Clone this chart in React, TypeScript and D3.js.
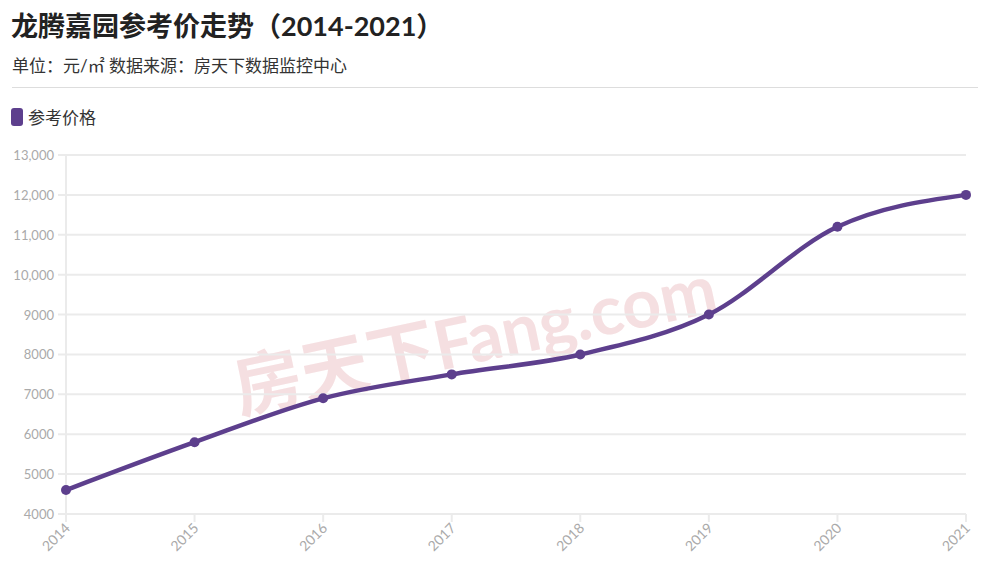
import React from "react";
import * as d3 from "d3";

const years = ["2014", "2015", "2016", "2017", "2018", "2019", "2020", "2021"];
const prices = [4600, 5800, 6900, 7500, 8000, 9000, 11200, 12000];
const yTicks = [4000, 5000, 6000, 7000, 8000, 9000, 10000, 11000, 12000, 13000];
const title = "龙腾嘉园参考价走势（2014-2021）";
const subtitle = "单位：元/㎡ 数据来源：房天下数据监控中心";
const seriesName = "参考价格";

const W = 988, H = 574;
const left = 66, right = 966, top = 155, bottom = 514;
const color = "#5d3f8d";
const font = "Lato, 'Noto Sans CJK SC', sans-serif";

export default function App() {
  const x = d3.scalePoint<string>().domain(years).range([left, right]);
  const y = d3.scaleLinear().domain([4000, 13000]).range([bottom, top]);
  const line = d3
    .line<number>()
    .x((_, i) => x(years[i]) as number)
    .y((d) => y(d))
    .curve(d3.curveMonotoneX);
  const fmt = (v: number) => (v >= 10000 ? d3.format(",")(v) : String(v));

  return (
    <svg width={W} height={H} style={{ position: "absolute", left: 0, top: 0, background: "#fff" }}>
      <text x={11} y={36} fontSize={27} fontWeight="bold" fill="#222" fontFamily={font}>{title}</text>
      <text x={12} y={72} fontSize={17} fill="#333" fontFamily={font}>{subtitle}</text>
      <line x1={12} x2={978} y1={87.5} y2={87.5} stroke="#ddd" strokeWidth={1} />
      <rect x={11} y={108} width={12} height={18} rx={3} fill={color} />
      <text x={28} y={124} fontSize={17} fill="#333" fontFamily={font}>{seriesName}</text>

      <text
        transform={`translate(480,362) rotate(-12)`}
        textAnchor="middle"
        fontSize={68}
        fontWeight="bold"
        fill="#f4dadc"
        opacity={0.85}
        fontFamily={font}
      >房天下Fang.com</text>

      {yTicks.map((t) => (
        <g key={t}>
          <line x1={58} x2={right} y1={y(t)} y2={y(t)} stroke="#ebebeb" strokeWidth={2} />
          <text x={54} y={y(t) + 5} textAnchor="end" fontSize={13} fill="#aaa" fontFamily={font}>{fmt(t)}</text>
        </g>
      ))}
      <line x1={left} x2={left} y1={top} y2={bottom + 8} stroke="#ebebeb" strokeWidth={2} />
      {years.map((yr) => {
        const px = x(yr) as number;
        return (
          <g key={yr}>
            <line x1={px} x2={px} y1={bottom} y2={bottom + 8} stroke="#ebebeb" strokeWidth={2} />
            <text
              transform={`translate(${px + 5},${bottom + 15}) rotate(-45)`}
              textAnchor="end"
              fontSize={14}
              fill="#aaa"
              fontFamily={font}
            >{yr}</text>
          </g>
        );
      })}

      <path d={line(prices) || ""} fill="none" stroke={color} strokeWidth={4.5} strokeLinecap="round" />
      {prices.map((p, i) => (
        <circle key={i} cx={x(years[i]) as number} cy={y(p)} r={5} fill={color} />
      ))}
    </svg>
  );
}
